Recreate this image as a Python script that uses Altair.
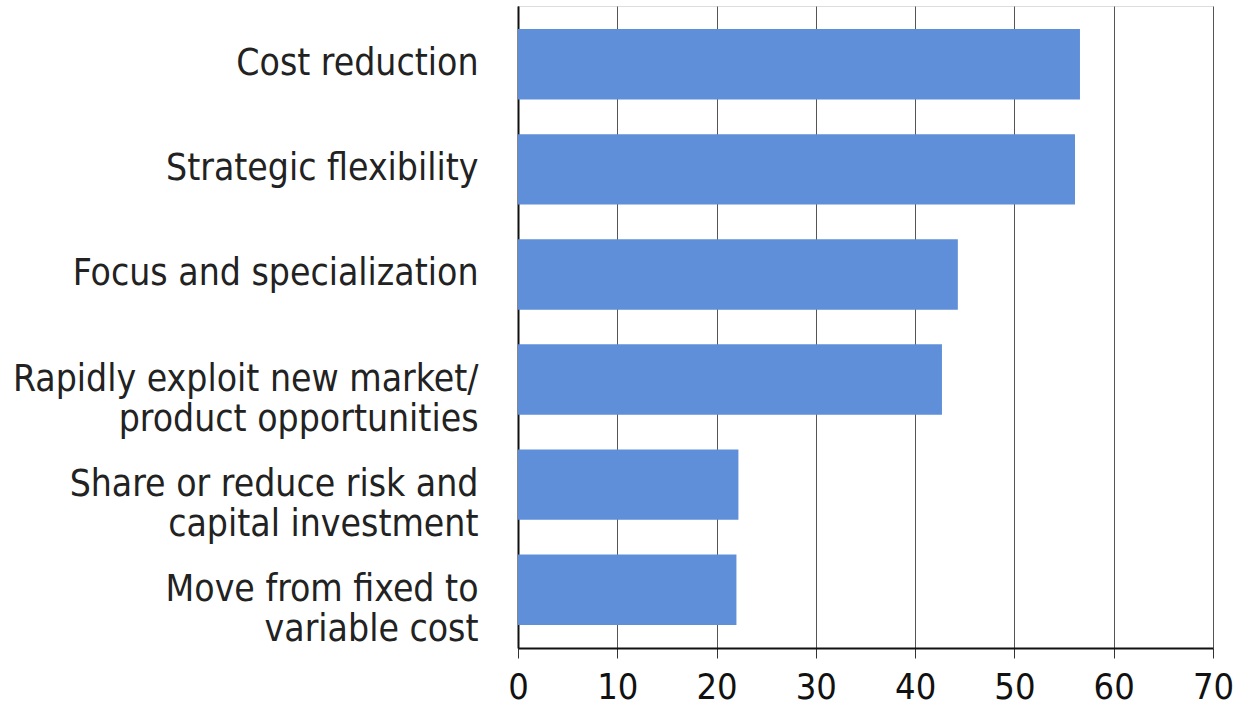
import altair as alt
import pandas as pd

categories = [
    "Cost reduction",
    "Strategic flexibility",
    "Focus and specialization",
    "Rapidly exploit new market/|product opportunities",
    "Share or reduce risk and|capital investment",
    "Move from fixed to|variable cost",
]
values = [56.6, 56.1, 44.3, 42.7, 22.2, 22.0]
ticks = [0, 10, 20, 30, 40, 50, 60, 70]

df = pd.DataFrame({"category": categories, "value": values})

FONT = "DejaVu Sans Condensed, Liberation Sans Narrow, sans-serif"

chart = (
    alt.Chart(df)
    .mark_bar(color="#5e8fd8")
    .encode(
        x=alt.X(
            "value:Q",
            scale=alt.Scale(domain=[0, 70], nice=False),
            axis=alt.Axis(
                values=ticks,
                title=None,
                grid=True,
                gridColor="#555555",
                gridWidth=1,
                gridOpacity=1,
                domainColor="#111111",
                domainWidth=2,
                tickColor="#333333",
                tickSize=10,
                labelFont=FONT,
                labelFontSize=36,
                labelColor="#111111",
                labelPadding=12,
                labelFlush=False,
            ),
        ),
        y=alt.Y(
            "category:N",
            sort=categories,
            scale=alt.Scale(paddingInner=0.33, paddingOuter=0.22),
            axis=alt.Axis(
                title=None,
                domainColor="#111111",
                domainWidth=2,
                ticks=False,
                labelFont=FONT,
                labelFontSize=37,
                labelColor="#222222",
                labelPadding=40,
                labelLimit=600,
                labelLineHeight=40,
                labelExpr="split(datum.label, '|')",
            ),
        ),
    )
    .properties(
        width=695,
        height=642,
        autosize=alt.AutoSizeParams(type="none"),
        padding={"left": 518, "top": 6, "right": 28, "bottom": 66},
    )
    .configure_view(strokeWidth=0, stroke="transparent")
    .configure(background="white")
)

chart.save("out.html", embed_options={"renderer": "svg", "actions": False})
